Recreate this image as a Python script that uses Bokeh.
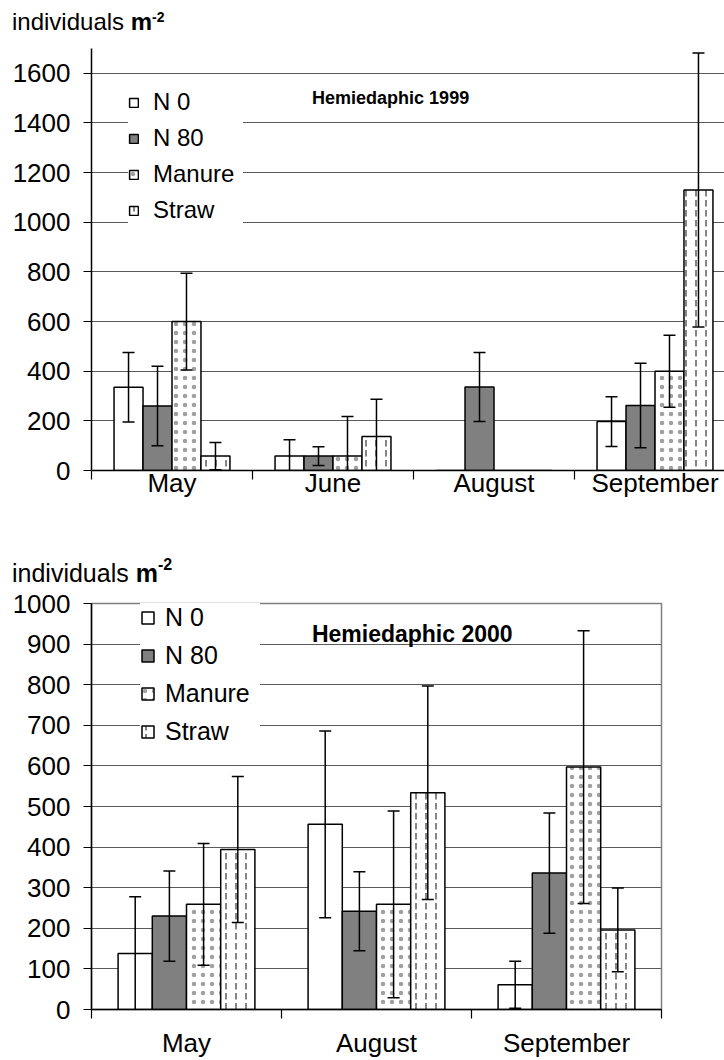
from bokeh.plotting import figure
from bokeh.models import (Range1d, FixedTicker, SingleIntervalTicker, Legend,
                          LegendItem, ColumnDataSource, Div)
from bokeh.core.properties import value
from bokeh.layouts import column
from bokeh.embed import file_html
from bokeh.resources import INLINE

FONT = "Liberation Sans"

# ---------------- data ----------------
series_names = ["N 0", "N 80", "Manure", "Straw"]

months_1999 = ["May", "June", "August", "September"]
n0_1999 = [335, 58, 0, 197]
n0_err_1999 = [140, 66, 0, 100]
n80_1999 = [260, 58, 336, 262]
n80_err_1999 = [160, 38, 139, 170]
manure_1999 = [600, 58, 0, 400]
manure_err_1999 = [195, 160, 0, 145]
straw_1999 = [58, 137, 0, 1130]
straw_err_1999 = [55, 150, 0, 552]

months_2000 = ["May", "August", "September"]
n0_2000 = [138, 456, 61]
n0_err_2000 = [140, 230, 58]
n80_2000 = [230, 242, 336]
n80_err_2000 = [111, 97, 148]
manure_2000 = [259, 259, 597]
manure_err_2000 = [150, 230, 336]
straw_2000 = [394, 534, 196]
straw_err_2000 = [180, 263, 103]

STYLES = [
    dict(fill_color="white"),
    dict(fill_color="#808080"),
    dict(fill_color="white", hatch_pattern="dot", hatch_color="#a0a0a0",
         hatch_scale=9, hatch_weight=1.0),
    dict(fill_color="white", hatch_pattern="vertical_dash", hatch_color="#858585",
         hatch_scale=10, hatch_weight=2.0),
]
OFFSETS = [-0.27, -0.09, 0.09, 0.27]
BAR_W = 0.18


def caption_div(height, pad_top, fsize, sup_size, sup_raise):
    html = (
        f'<div style="font-family:\'{FONT}\'; font-size:{fsize}px; line-height:{fsize}px; '
        f'color:black; white-space:nowrap; padding-left:12px; padding-top:{pad_top}px;">'
        f'individuals <b>m<span style="font-size:{sup_size}px; position:relative; '
        f'top:-{sup_raise}px;">-2</span></b></div>'
    )
    return Div(text=html, width=724, height=height, margin=(0, 0, 0, 0))


def make_chart(months, vals, errs, ymax, ystep, frame_w, frame_h, xmax, borders,
               tick_font, xlabel_standoff, legend_cfg, title_cfg, outline):
    bl, br, bt, bb = borders
    p = figure(frame_width=frame_w, frame_height=frame_h, output_backend="svg",
               toolbar_location=None, min_border_left=bl, min_border_right=br,
               min_border_top=bt, min_border_bottom=bb,
               x_range=Range1d(0, xmax), y_range=Range1d(0, ymax))
    p.background_fill_color = "white"
    p.border_fill_color = "white"
    if outline:
        p.outline_line_color = "#808080"
        p.outline_line_width = 1.5
    else:
        p.outline_line_color = None

    centers = [i + 0.5 for i in range(len(months))]
    bounds = list(range(len(months) + 1))

    # x axis: category boundaries as tick marks, month names at centres
    xa = p.xaxis[0]
    xa.ticker = FixedTicker(ticks=centers, minor_ticks=bounds)
    xa.major_label_overrides = {c: m for c, m in zip(centers, months)}
    xa.major_tick_out = 0
    xa.major_tick_in = 0
    xa.minor_tick_out = 9
    xa.minor_tick_in = 0
    xa.minor_tick_line_color = "black"
    xa.minor_tick_line_width = 1.2
    xa.axis_line_color = "black"
    xa.axis_line_width = 1.5
    xa.major_label_text_font = FONT
    xa.major_label_text_font_size = tick_font
    xa.major_label_text_color = "black"
    xa.major_label_standoff = xlabel_standoff

    # y axis
    ya = p.yaxis[0]
    ya.ticker = SingleIntervalTicker(interval=ystep, num_minor_ticks=0)
    ya.major_tick_out = 8
    ya.major_tick_in = 0
    ya.minor_tick_out = 0
    ya.minor_tick_in = 0
    ya.major_tick_line_color = "black"
    ya.major_tick_line_width = 1.2
    ya.axis_line_color = "black"
    ya.axis_line_width = 1.5
    ya.major_label_text_font = FONT
    ya.major_label_text_font_size = tick_font
    ya.major_label_text_color = "black"
    ya.major_label_standoff = 13

    p.xgrid.grid_line_color = None
    p.ygrid.ticker = SingleIntervalTicker(interval=ystep, num_minor_ticks=0)
    p.ygrid.grid_line_color = "#5a5a5a"
    p.ygrid.grid_line_width = 1.2

    renderers = []
    err_x, err_lo, err_hi, cap_x, cap_y = [], [], [], [], []
    for s in range(4):
        xs = [c + OFFSETS[s] for c in centers]
        src = ColumnDataSource(dict(x=xs, top=vals[s]))
        r = p.vbar(x="x", top="top", bottom=0, width=BAR_W, source=src,
                   line_color="black", line_width=1.5, **STYLES[s])
        renderers.append(r)
        for xi, v, e in zip(xs, vals[s], errs[s]):
            if e <= 0:
                continue
            lo = v - e
            hi = v + e
            err_x.append(xi)
            err_lo.append(max(lo, 0))
            err_hi.append(hi)
            cap_x.append(xi)
            cap_y.append(hi)
            if lo >= 0:
                cap_x.append(xi)
                cap_y.append(lo)
    p.segment(x0=err_x, y0=err_lo, x1=err_x, y1=err_hi, line_color="black", line_width=1.5)
    p.scatter(x=cap_x, y=cap_y, marker="dash", size=12, line_color="black", line_width=1.5)

    # legend
    lx, ly, lfont, glyph, standoff, lheight, lspacing, lpad, lwidth = legend_cfg
    legend = Legend(items=[LegendItem(label=n, renderers=[r]) for n, r in zip(series_names, renderers)],
                    location=(lx, ly), orientation="vertical",
                    label_text_font=FONT, label_text_font_size=lfont, label_text_color="black",
                    glyph_width=glyph, glyph_height=glyph, label_standoff=standoff,
                    label_height=lheight, spacing=lspacing, padding=lpad, margin=0,
                    label_width=lwidth, border_line_color=None,
                    background_fill_color="white", background_fill_alpha=1.0)
    p.add_layout(legend)

    # chart title inside the plot area (data coordinates)
    tx, ty, tfont, ttext = title_cfg
    p.text(x=[tx], y=[ty], text=[ttext], text_font=value(FONT), text_font_size=tfont,
           text_font_style="bold", text_color="black", text_baseline="alphabetic",
           text_align="left")
    return p


LEFT = 91

cap1 = caption_div(40, 10, 24, 14, 8)

p1 = make_chart(months_1999,
                [n0_1999, n80_1999, manure_1999, straw_1999],
                [n0_err_1999, n80_err_1999, manure_err_1999, straw_err_1999],
                ymax=1700, ystep=200, frame_w=724 - LEFT, frame_h=422,
                xmax=(724 - LEFT) / 161.0,
                borders=(LEFT, 0, 8, 44), tick_font="26px", xlabel_standoff=-12,
                legend_cfg=(37, 245, "24px", 11, 14, 30, 6, 8, 90),
                title_cfg=(1.37, 1500, "18px", "Hemiedaphic 1999"),
                outline=False)

cap2 = caption_div(69, 47, 25, 16, 12)

p2 = make_chart(months_2000,
                [n0_2000, n80_2000, manure_2000, straw_2000],
                [n0_err_2000, n80_err_2000, manure_err_2000, straw_err_2000],
                ymax=1000, ystep=100, frame_w=661 - LEFT, frame_h=406, xmax=3,
                borders=(LEFT, 63, 20, 43), tick_font="26px", xlabel_standoff=9,
                legend_cfg=(49, 262, "25px", 15, 10, 32, 6, 10, 95),
                title_cfg=(1.16, 925, "23px", "Hemiedaphic 2000"),
                outline=True)

layout = column(cap1, p1, cap2, p2, spacing=0)
open("out.html", "w").write(file_html(layout, INLINE))
